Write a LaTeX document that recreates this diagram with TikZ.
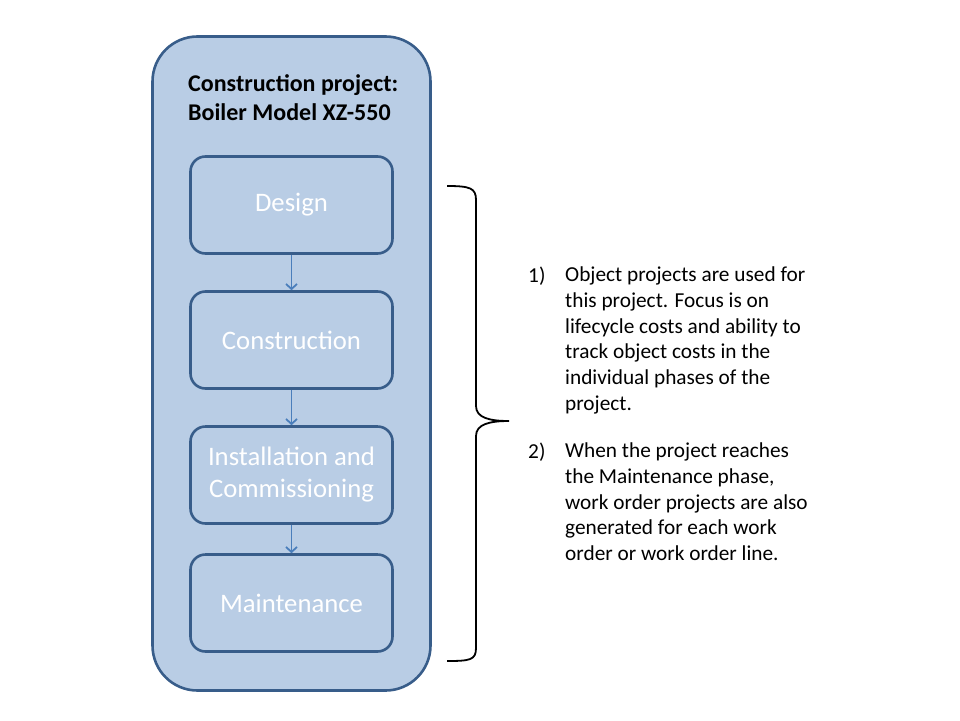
\documentclass[tikz,border=0pt]{standalone}
\usepackage{fontspec}
\setmainfont{Carlito}
\usepackage{xcolor}
\usetikzlibrary{arrows.meta}

\definecolor{boxfill}{RGB}{185,205,229}
\definecolor{boxline}{RGB}{56,93,138}
\definecolor{arrowblue}{RGB}{74,126,187}

\tikzset{
    phase/.style={draw=boxline, line width=2.6pt, rounded corners=15pt,
        minimum width=202pt, minimum height=97pt, align=center,
        text=white, font=\fontsize{26.7}{32}\selectfont},
    flow/.style={arrowblue, line width=1.8pt, -{Straight Barb[length=5pt,width=11pt]}},
    note/.style={anchor=north west, align=left, inner sep=0pt,
        font=\fontsize{21.3}{25.8}\selectfont},
    num/.style={anchor=base west, inner sep=0pt, font=\fontsize{21.3}{25.8}\selectfont},
}

\begin{document}
\begin{tikzpicture}[x=1pt, y=-1pt]
    \useasboundingbox (0,0) rectangle (960,720);

    % Outer project box
    \node[draw=boxline, fill=boxfill, line width=2.6pt, rounded corners=45pt,
          minimum width=278pt, minimum height=654pt] (project) at (291.5,363.5) {};

    % Title
    \node[anchor=north west, align=left, inner sep=0pt,
          font=\fontsize{24}{29}\selectfont\bfseries] (title) at (188,74)
          {Construction project:\\Boiler Model XZ-550};

    % Phases
    \node[phase] (design) at (291.5,205) {Design};
    \node[phase] (construction) at (291.5,340) {Construction};
    \node[phase] (installation) at (291.5,475) {Installation and\\Commissioning};
    \node[phase] (maintenance) at (291.5,603) {Maintenance};

    % Flow between phases
    \draw[flow] (design) -- (construction);
    \draw[flow] (construction) -- (installation);
    \draw[flow] (installation) -- (maintenance);

    % Brace
    \coordinate (bracetip) at (509,421);
    \draw[line width=1.8pt] (447,186) .. controls (470,186) and (476,188) .. (476,200)
        -- (476,406) .. controls (476,418) and (490,421) .. (bracetip)
        .. controls (490,421) and (476,424) .. (476,436)
        -- (476,648) .. controls (476,660) and (470,661) .. (447,661);

    % Notes
    \node[num] (numone) at (528,282) {1)};
    \node[note] (noteone) at (565,266.5) {Object projects are used for\\this project. Focus is on\\lifecycle costs and ability to\\track object costs in the\\individual phases of the\\project.};
    \node[num] (numtwo) at (528,458) {2)};
    \node[note] (notetwo) at (565,442.5) {When the project reaches\\the Maintenance phase,\\work order projects are also\\generated for each work\\order or work order line.};
\end{tikzpicture}
\end{document}
